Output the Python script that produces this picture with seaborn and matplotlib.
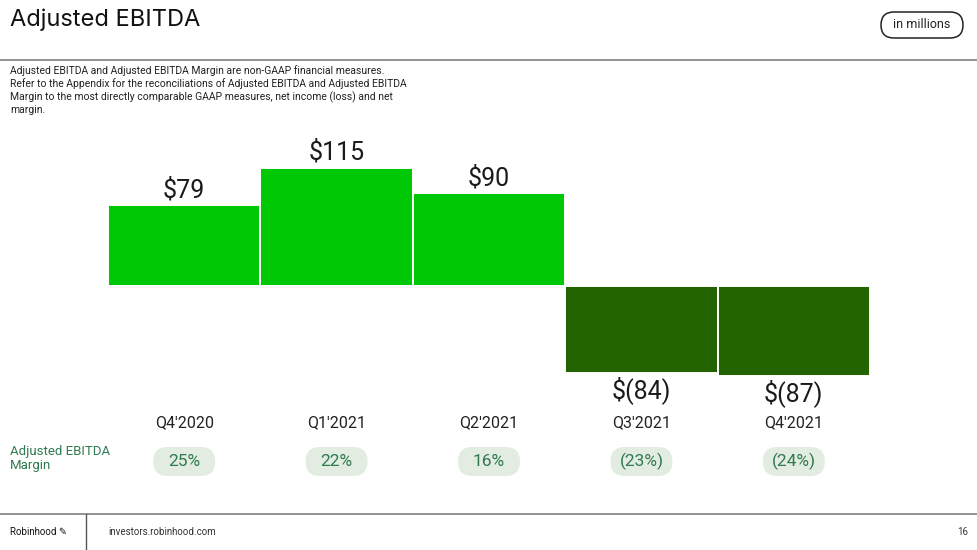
import matplotlib
matplotlib.use("Agg")
import matplotlib.pyplot as plt
from matplotlib.patches import FancyBboxPatch
import seaborn as sns
import pandas as pd

# chart data
quarters = ["Q4'2020", "Q1'2021", "Q2'2021", "Q3'2021", "Q4'2021"]
ebitda = [79, 115, 90, -84, -87]
value_labels = ["$79", "$115", "$90", "$(84)", "$(87)"]
margins = ["25%", "22%", "16%", "(23%)", "(24%)"]

bright_green = "#00c805"
dark_green = "#246400"
colors = [bright_green if v >= 0 else dark_green for v in ebitda]

sns.set_theme(style="white")
plt.rcParams["font.family"] = ["Roboto", "DejaVu Sans"]

W, H = 977, 550
fig = plt.figure(figsize=(W / 100, H / 100), dpi=100)
fig.patch.set_facecolor("white")

# bar axes placed in pixel coordinates: x 108..870, y 130..400
left, right, top, bottom = 108, 870, 130, 400
zero_y = 286
ax = fig.add_axes([left / W, 1 - bottom / H, (right - left) / W, (bottom - top) / H])

df = pd.DataFrame({"quarter": quarters, "ebitda": ebitda})
sns.barplot(data=df, x="quarter", y="ebitda", hue="quarter", palette=colors,
            width=1.0, legend=False, edgecolor="white", linewidth=1.4,
            saturation=1, ax=ax)

px_per_unit = 1.03
ax.set_xlim(-0.5, 4.5)
ax.set_ylim(-(bottom - zero_y) / px_per_unit, (zero_y - top) / px_per_unit)
ax.axhline(0, color="#c4c4c4", lw=1, zorder=0.5)
ax.axis("off")

for i, (v, lab) in enumerate(zip(ebitda, value_labels)):
    if v >= 0:
        ax.text(i, v + 2.5, lab, ha="center", va="bottom", fontsize=18, color="#1a1a1a")
    else:
        ax.text(i, v - 3.5, lab, ha="center", va="top", fontsize=18, color="#1a1a1a")

# overlay axes in image pixel coordinates for the page decorations
ov = fig.add_axes([0, 0, 1, 1], zorder=-1)
ov.set_xlim(0, W)
ov.set_ylim(H, 0)
ov.axis("off")

fig.canvas.draw()
for i, (q, m) in enumerate(zip(quarters, margins)):
    cx = ax.transData.transform((i, 0))[0]
    ov.text(cx, 423, q, ha="center", va="center", fontsize=11.5, color="#222222")
    ov.add_patch(FancyBboxPatch((cx - 31, 447), 62, 29,
                                boxstyle="round,pad=0,rounding_size=14.5",
                                fc="#e2ece1", ec="none"))
    ov.text(cx, 461.5, m, ha="center", va="center", fontsize=12.5, color="#2f7a4f")

ov.text(10, 459, "Adjusted EBITDA\nMargin", ha="left", va="center",
        fontsize=9.5, color="#2f7a4f", linespacing=1.1)

# header
ov.text(10, 20, "Adjusted EBITDA", ha="left", va="center",
        fontsize=17, color="#111111", family=["Inter", "DejaVu Sans"])
ov.plot([0, W], [60, 60], color="#8a8a8a", lw=1.3)
ov.add_patch(FancyBboxPatch((881, 12), 82, 26, boxstyle="round,pad=0,rounding_size=13",
                            fc="white", ec="#222222", lw=1.1))
ov.text(922, 25, "in millions", ha="center", va="center", fontsize=9, color="#222222")

note = ("Adjusted EBITDA and Adjusted EBITDA Margin are non-GAAP financial measures.\n"
        "Refer to the Appendix for the reconciliations of Adjusted EBITDA and Adjusted EBITDA\n"
        "Margin to the most directly comparable GAAP measures, net income (loss) and net\n"
        "margin.")
ov.text(10, 65, note, ha="left", va="top", fontsize=7.5,
        color="#222222", linespacing=1.25)

# footer
ov.plot([0, W], [514, 514], color="#8a8a8a", lw=1.3)
ov.plot([86, 86], [514, H], color="#555555", lw=1)
ov.text(10, 532, "Robinhood \u270e", ha="left", va="center",
        fontsize=7, color="#111111", family=["Roboto", "DejaVu Sans"])
ov.text(108, 532, "investors.robinhood.com", ha="left", va="center",
        fontsize=7, color="#333333")
ov.text(968, 532, "16", ha="right", va="center", fontsize=7, color="#333333")

fig.savefig("out.png", dpi=100)
